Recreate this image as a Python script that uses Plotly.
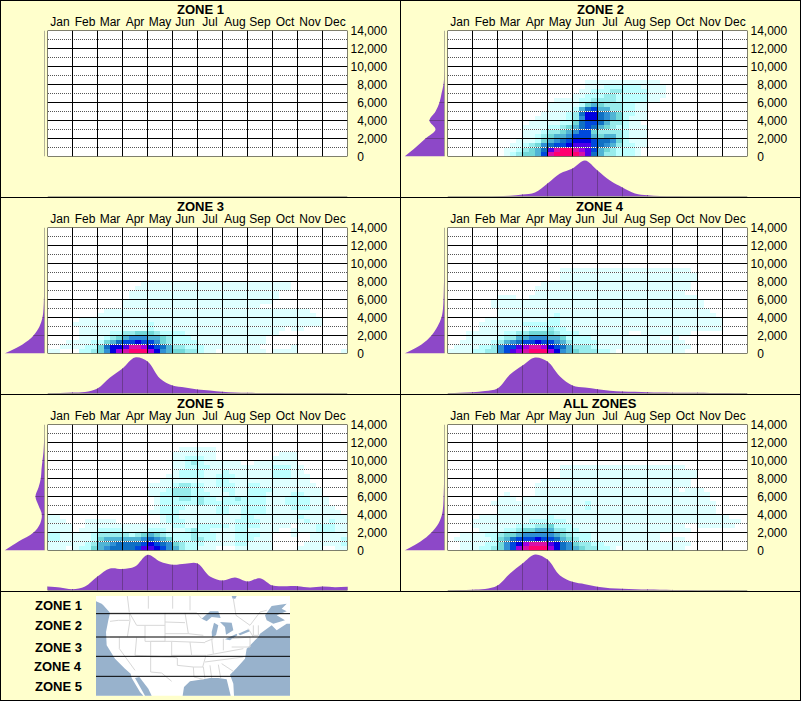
"""
Elevation / month heat maps for five latitude zones and all zones together.
"""

import plotly.graph_objects as go

WIDTH = 801
HEIGHT = 701
BG = "#FFFFCC"
PURPLE = "#8D48C8"
DARK_PURPLE = "#6B3A90"
WATER = "#98B2CC"
GULF = "#96B0CA"
FONT = "Liberation Sans"

MONTHS = ["Jan", "Feb", "Mar", "Apr", "May", "Jun", "Jul", "Aug", "Sep", "Oct", "Nov", "Dec"]
ELEV_TICKS = [0, 2000, 4000, 6000, 8000, 10000, 12000, 14000]
ELEV_LABELS = ["\u00a0\u00a00", "\u00a0\u00a02,000", "\u00a0\u00a04,000", "\u00a0\u00a06,000",
               "\u00a0\u00a08,000", "10,000", "12,000", "14,000"]
PANEL_TITLES = ["ZONE 1", "ZONE 2", "ZONE 3", "ZONE 4", "ZONE 5", "ALL ZONES"]
ZONE_LABELS = ["ZONE 1", "ZONE 2", "ZONE 3", "ZONE 4", "ZONE 5"]

# heat levels, one hex digit per cell
LEVEL_COLORS = ["#FFFFFF", "#DFFFFF", "#BDFFFF", "#98ECEC", "#72D8D8", "#50B4D4", "#3090D4",
                "#1070C4", "#0048DC", "#0000E0", "#5000E8", "#A000E0", "#D810A8", "#FF0070"]

# each row: 48 weekly cells, 12 groups of 4; first row is the lowest 500 ft band
ZONE1_ROWS = []
ZONE2_ROWS = [
    "0000 0000 0123 4458 CDDD DCA7 5332 2210",
    "0000 0000 0112 3457 ACDD CBA8 5432 2210",
    "0000 0000 0011 2346 7889 AAA8 7653 2211",
    "0000 0000 0001 1124 5678 9998 7764 2111",
    "0000 0000 0000 1123 4556 8885 4553 2111",
    "0000 0000 0000 1112 3345 6884 3333 2111",
    "0000 0000 0000 1111 2234 5787 5432 2111",
    "0000 0000 0000 0111 1122 4788 7533 2110",
    "0000 0000 0000 0011 1112 3699 7654 2111",
    "0000 0000 0000 0001 1112 3799 7654 2211",
    "0000 0000 0000 0000 1111 2578 5533 2211",
    "0000 0000 0000 0000 1111 1245 4333 2211",
    "0000 0000 0000 0000 0111 1223 3332 2222 1100",
    "0000 0000 0000 0000 0000 1122 2332 2222 1110",
    "0000 0000 0000 0000 0000 0112 2233 2222 1110",
    "0000 0000 0000 0000 0000 0011 1222 2221 1110",
    "0000 0000 0000 0000 0000 0011 1111 1111 1100",
]
ZONE3_ROWS = [
    "1100 0223 469B CDDD B965 4433 2110 1111 1110 1111 0000 0001",
    "0011 1122 4799 ACCB 9875 3322 2111 1111 1100 0001",
    "0001 1112 2457 8898 8643 2222 1111 1111 1110",
    "0000 0111 1234 5666 5543 2221 1111 1111 1110",
    "0000 0111 1122 3344 4322 2211 1111 1111 1111 1000",
    "0000 0111 1111 1111 2111 1111 1111 1111 1111 1101 1000",
    "0000 1111 1111 1111 2111 1111 1111 1111 1111 1111 1111",
    "0000 0111 1111 1111 1111 1111 1111 1111 1111 1111 1111",
    "0000 0000 1111 1111 1111 1111 1111 1111 1111 1111 1110",
    "0000 0000 0111 1111 1111 1111 1111 1111 1111 1111 1100",
    "0000 0000 0000 1111 1111 1111 1111 1111 1100",
    "0000 0000 0000 1111 1111 1111 1111 1111 1111",
    "0000 0000 0000 0111 1111 1111 1111 1111 1111 1000",
    "0000 0000 0000 0111 1111 1111 1111 1111 1111 1000",
    "0000 0000 0000 0011 1111 1111 1111 1111 1111 1110",
    "0000 0000 0000 0001 1111 1111 1111 1111 1111 1110",
]
ZONE4_ROWS = [
    "1111 2233 68AB CDDD B965 4333 2210 1111 1111 1100",
    "0111 1223 688A BCCB 9875 3332 1111 1111 1111 1110",
    "0011 1112 3567 8898 8653 2222 1111 1111 1111 1100",
    "0001 1111 2335 5666 5542 2221 1111 1111 1100 1000",
    "0001 1111 1223 3444 4322 2111 1111 1001 1111 1110",
    "0000 0111 1111 1222 3221 1111 1111 1111 1111 1111 1111",
    "0000 0111 1111 2222 2211 1111 1111 1111 1111 1111 1111",
    "0000 0011 1111 1111 2211 1111 1111 1111 1111 1111 1111",
    "0000 0000 1111 1111 1211 1111 1111 1111 1111 1111 1110",
    "0000 0000 1111 1111 1111 1111 1111 1111 1111 1111 1100",
    "0000 0001 1111 1111 1111 1111 1111 1111 1111 1111 1000",
    "0000 0001 1111 1111 1111 1111 1111 1111 1111 1111 1000",
    "0000 0000 1110 0111 1111 1111 1111 1111 1111 1111",
    "0000 0000 0000 0011 1111 1111 1111 1111 1111 1100",
    "0000 0000 0000 0011 1111 1111 1111 1111 1111 1110",
    "0000 0000 0000 0001 1111 1111 1111 1111 1111 1110",
    "0000 0000 0000 0000 0011 1111 1111 1111 1111 1111",
    "0000 0000 0000 0000 0011 1111 1111 1111 1111 1111",
    "0000 0000 0000 0000 0011 1111 1111 1111 1111 1110",
]
ZONE5_ROWS = [
    "1110 1224 5677 778A A986 5322 1110 0011 1111 0000 1111 0011",
    "1111 1123 5567 7778 9876 4322 2111 1122 1111 0000 0111 1112",
    "2211 1112 4555 5556 7654 2223 3221 1122 2111 0000 0011 1112",
    "2211 1112 3333 3234 5432 2223 2221 1122 2211 0001 0011 1111",
    "1111 0111 2222 1111 2221 1123 2211 1122 1111 1001 1112 2211",
    "1111 0011 1111 1111 1111 2211 2222 2122 2211 1110 1112 2211",
    "1110 0011 1110 0000 0012 2211 1111 1122 2211 1111 1211 1211",
    "1100 0000 0000 0000 0012 2111 1111 1112 2111 1111 2111 1111",
    "0000 0000 0000 0000 1122 2111 1112 2112 2221 1111 1111 1110",
    "0000 0000 0000 0000 0122 2211 1112 2112 2221 1112 2211 1100",
    "0000 0000 0000 0000 0122 2222 3222 2222 2221 1122 2211 1000",
    "0000 0000 0000 0000 0122 2332 3221 2232 2221 1122 2211 1000",
    "0000 0000 0000 0000 1122 3332 2211 1211 2221 1112 2111",
    "0000 0000 0000 0000 1112 3332 2111 2211 2222 1111 1111",
    "0000 0000 0000 0000 1111 2332 2112 2211 2211 1111 1110",
    "0000 0000 0000 0000 0011 1111 1112 2111 1111 1111 1100",
    "0000 0000 0000 0000 0001 1222 2112 2211 1111 2221 1100",
    "0000 0000 0000 0000 0000 1222 2111 2111 1111 2221 1000",
    "0000 0000 0000 0000 0000 1122 2211 1111 1111 2221 1000",
    "0000 0000 0000 0000 0000 1123 2111 1110 0111 1111",
    "0000 0000 0000 0000 0000 1122 2110 0000 0000 1111",
    "0000 0000 0000 0000 0000 1111 1110 0000 0000 0111",
    "0000 0000 0000 0000 0000 0111 1110",
]
ALL_ROWS = [
    "0011 1223 468B CDDD B976 5433 2210 1111 1111 1100",
    "0011 1122 4689 BCCC A976 4332 2111 1111 1111 1110",
    "0111 1112 4578 8898 8754 3221 1111 1111 1100 1100",
    "0011 1122 3445 6666 6543 2221 1111 1111 1100",
    "0000 0111 1223 4455 5332 2111 1111 1111 1111 1110",
    "0000 1111 1112 2233 4222 1111 1111 1111 1111 1100 1111 1100",
    "0000 1111 1111 1222 2221 1111 1111 1111 1111 1111 1111 1110",
    "0000 0111 1111 1111 2111 1111 1111 1111 1111 1111 1111 1000",
    "0000 0000 1111 1111 1111 1111 1111 1111 1111 1111 1110",
    "0000 0000 1111 1111 1111 1121 1111 1111 1111 1111 1110",
    "0000 0001 1111 1111 1111 1121 1111 1111 1111 1111 1110",
    "0000 0000 1110 1111 1111 1111 1111 1111 1111 1111 1100",
    "0000 0000 0100 0011 1111 1111 1111 1111 1111 1111 1100",
    "0000 0000 0000 0011 1111 1111 1111 1111 1111 1011 1000",
    "0000 0000 0000 0011 1111 1111 1111 1111 1111 1110",
    "0000 0000 0000 0001 1111 1111 1111 1111 1111 1110",
    "0000 0000 0000 0000 0011 1111 1111 1111 1111 1111",
    "0000 0000 0000 0000 0011 1111 1111 1111 1111 1111",
    "0000 0000 0000 0000 0011 1111 1111 1111 1111 1100",
]

# marginal curves: month profile has a value each half month, elevation profile each 1000 ft
ZONE1_MONTH = [0] * 25
ZONE2_MONTH = [0, 0, 0, 0, 0.3, 0.8, 2, 4, 13, 23, 28, 36, 26, 16, 9, 3, 1.3, 0.5, 0.2, 0, 0, 0, 0, 0, 0]
ZONE3_MONTH = [0.3, 0.5, 1, 1.5, 5, 16, 25, 36, 32, 15, 8, 6, 4, 3, 1.7, 1, 0.7, 0.5, 0.4, 0.3, 0.3, 0.2, 0.2, 0.1, 0.1]
ZONE4_MONTH = [0.3, 0.7, 1.2, 2.5, 5, 19, 28, 36, 32, 17, 8, 6, 4.3, 2.7, 2, 1.7, 1.3, 1, 0.8, 0.7, 0.8, 0.6, 0.4, 0.3, 0.2]
ZONE5_MONTH = [4, 3, 1.3, 4, 14, 22, 21.6, 24, 35.6, 29, 25.7, 26.7, 27, 14, 10, 13, 9, 12.3, 5, 4.3, 4.3, 3, 4, 3.3, 3.7]
ALL_MONTH = [0.2, 0.4, 0.8, 1.5, 5, 17, 27, 36, 31, 15, 8.7, 6.3, 3.7, 2.3, 1.7, 1.3, 1, 0.8, 0.6, 0.4, 0.3, 0.2, 0.2, 0.1, 0.1]

ZONE1_ELEV = [0] * 15
ZONE2_ELEV = [40, 29, 19, 9, 15, 9, 5, 3, 1, 0.3, 0, 0, 0, 0, 0]
ZONE3_ELEV = [40, 22, 11, 5, 2, 1, 0.6, 0.4, 0.3, 0.2, 0.1, 0, 0, 0, 0]
ZONE4_ELEV = [40, 23, 13, 7, 3, 1.5, 1, 0.7, 0.5, 0.3, 0.2, 0.1, 0, 0, 0]
ZONE5_ELEV = [40, 26, 11, 4.3, 2.7, 6, 9, 6, 3.7, 3, 2, 1, 0.5, 0, 0]
ALL_ELEV = [40, 24, 13, 6, 2.5, 1.3, 0.9, 0.6, 0.4, 0.3, 0.2, 0.1, 0, 0, 0]

PANEL_ROWS = [ZONE1_ROWS, ZONE2_ROWS, ZONE3_ROWS, ZONE4_ROWS, ZONE5_ROWS, ALL_ROWS]
PANEL_MONTH = [ZONE1_MONTH, ZONE2_MONTH, ZONE3_MONTH, ZONE4_MONTH, ZONE5_MONTH, ALL_MONTH]
PANEL_ELEV = [ZONE1_ELEV, ZONE2_ELEV, ZONE3_ELEV, ZONE4_ELEV, ZONE5_ELEV, ALL_ELEV]

# locator map outline, in the map's own units
MAP_LAND_X = [18, 600, 600, 18]
MAP_LAND_Y = [12, 12, 311, 311]
MAP_WATER = [
    # lakes
    ([335, 360, 385, 392, 365, 350], [80, 58, 58, 78, 75, 88]),
    ([365, 372, 385, 378, 366], [120, 92, 100, 130, 135]),
    ([390, 425, 430, 408, 405], [90, 92, 115, 128, 105]),
    ([405, 440, 442, 420], [142, 125, 130, 145]),
    ([445, 475, 480, 450], [125, 112, 118, 130]),
    # Hudson Bay tip, St Lawrence
    ([425, 440, 436, 428], [12, 12, 20, 20]),
    ([525, 545, 590, 575, 590, 560, 585, 550, 530], [70, 42, 35, 50, 58, 70, 85, 95, 85]),
    # Pacific
    ([18, 160, 150, 125, 122, 105, 75, 50, 48, 55, 60, 40, 35, 18], [311, 311, 300, 258, 245, 230, 200, 160, 120, 85, 62, 40, 35, 28]),
    # Gulf of California
    ([135, 148, 175, 185, 165], [258, 255, 290, 311, 311]),
    # Atlantic
    ([432, 430, 420, 440, 465, 470, 485, 505, 510, 545, 560, 590, 600, 600],
     [311, 275, 248, 228, 200, 170, 155, 135, 125, 100, 115, 95, 95, 311]),
]
# Gulf of Mexico, drawn last
MAP_GULF_X = [340, 360, 385, 410, 422, 278, 282, 300]
MAP_GULF_Y = [262, 258, 258, 262, 311, 311, 285, 268]
MAP_BORDERS = [
    ([60, 320, 335], [62, 62, 80]),
    ([60, 85, 118], [88, 85, 85]),
    ([118, 120, 112], [62, 85, 135]),
    ([60, 165], [135, 135]),
    ([88, 88, 135], [135, 170, 235]),
    ([140, 135], [135, 190]),
    ([118, 140, 165, 225], [62, 100, 100, 100]),
    ([165, 165, 225, 225], [100, 148, 148, 62]),
    ([182, 182], [148, 240]),
    ([182, 245, 245, 182], [148, 148, 195, 195]),
    ([135, 245], [190, 195]),
    ([225, 285], [90, 92]),
    ([225, 295], [125, 125]),
    ([245, 300, 305, 245], [148, 150, 190, 190]),
    ([245, 262, 262, 310, 312, 340], [195, 198, 220, 225, 255, 262]),
    ([182, 215, 245], [240, 243, 268]),
    ([285, 290, 295, 340], [62, 90, 125, 130]),
    ([300, 345], [150, 152]),
    ([305, 348, 338], [190, 190, 225]),
    ([310, 340, 345], [225, 225, 260]),
    ([360, 365], [220, 258]),
    ([385, 392], [218, 258]),
    ([430, 395], [238, 215]),
    ([345, 460], [210, 195]),
    ([350, 400, 460], [190, 180, 170]),
    ([345, 370], [150, 140]),
    ([365, 370], [140, 185]),
    ([400, 400], [140, 175]),
    ([425, 480, 480, 425], [140, 135, 165, 165]),
    ([475, 490], [110, 135]),
    ([490, 490, 505, 505], [100, 130, 130, 100]),
    ([480, 510, 530], [100, 60, 55]),
    ([112, 118], [12, 62]),
    ([175, 175], [12, 50]),
    ([248, 248], [12, 50]),
    ([300, 300], [12, 55]),
    ([430, 438, 480], [20, 70, 100]),
]
MAP_DIVIDERS = [65, 135, 193, 253]
MAP_LABEL_Y = [605.5, 625.5, 647, 666.5, 686.5]

fig = go.Figure()
layout_axes = {}
axis_count = 0


def add_axes(left, right, top, bottom, xargs, yargs):
    """Register an x/y axis pair placed by pixel box, returns the trace axis ids."""
    global axis_count
    axis_count += 1
    suffix = "" if axis_count == 1 else str(axis_count)
    base = dict(showgrid=False, zeroline=False, showline=False, ticks="", showticklabels=False, fixedrange=True)
    layout_axes["xaxis" + suffix] = {
        **base, "domain": [left / WIDTH, right / WIDTH], "anchor": "y" + suffix, **xargs,
    }
    layout_axes["yaxis" + suffix] = {
        **base, "domain": [1 - bottom / HEIGHT, 1 - top / HEIGHT], "anchor": "x" + suffix, **yargs,
    }
    return "x" + suffix, "y" + suffix


def line_trace(xs, ys, xa, ya, color, width=1, dash="solid"):
    return go.Scatter(x=xs, y=ys, xaxis=xa, yaxis=ya, mode="lines", hoverinfo="skip", showlegend=False,
                      line=dict(color=color, width=width, dash=dash))


def polygon_trace(xs, ys, xa, ya, color):
    return go.Scatter(x=xs + xs[:1], y=ys + ys[:1], xaxis=xa, yaxis=ya, mode="lines", fill="toself", fillcolor=color,
                      line=dict(width=0, simplify=False), hoverinfo="skip", showlegend=False)


def segments(pairs):
    xs, ys = [], []
    for x_pair, y_pair in pairs:
        xs += list(x_pair) + [None]
        ys += list(y_pair) + [None]
    return xs, ys


def heat_grid(rows):
    grid = []
    for r in range(28):
        text = rows[r].replace(" ", "") if r < len(rows) else ""
        grid.append([int(ch, 16) for ch in text.ljust(48, "0")])
    return grid


n_levels = len(LEVEL_COLORS)
colorscale = []
for i, c in enumerate(LEVEL_COLORS):
    colorscale += [[i / n_levels, c], [(i + 1) / n_levels, c]]

month_edges = [m for m in range(13)]
half_months = [k / 2 for k in range(25)]
thousands = [k * 1000 for k in range(15)]
cell_x = [(c + 0.5) / 4 for c in range(48)]
cell_y = [(r + 0.5) * 500 for r in range(28)]
annotations = []

for p, title in enumerate(PANEL_TITLES):
    dx = 400 * (p % 2)
    dy = 197 * (p // 2)

    # main heat panel
    xa, ya = add_axes(
        47.5 + dx, 347.5 + dx, 30.5 + dy, 156.5 + dy,
        dict(range=[0, 12], side="top", showticklabels=True, tickvals=[m + 0.5 for m in range(12)], ticktext=MONTHS,
             tickfont=dict(family=FONT, size=12, color="#000000"), ticklabelstandoff=1),
        dict(range=[0, 14000], side="right", showticklabels=True, tickvals=ELEV_TICKS, ticktext=ELEV_LABELS,
             tickfont=dict(family=FONT, size=12, color="#000000"), ticklabelstandoff=2),
    )
    fig.add_trace(go.Heatmap(x=cell_x, y=cell_y, z=heat_grid(PANEL_ROWS[p]), xaxis=xa, yaxis=ya, zmin=-0.5,
                             zmax=n_levels - 0.5, colorscale=colorscale, showscale=False, hoverinfo="skip",
                             xgap=0, ygap=0))
    odd = [t for t in thousands if t % 2000]
    # half a pixel in from the edge so the 1px dashes land on whole pixels
    dot_x, dot_y = segments([([0.02, 12], [t, t]) for t in odd])
    fig.add_trace(line_trace(dot_x, dot_y, xa, ya, "#FFFFFF"))
    fig.add_trace(line_trace(dot_x, dot_y, xa, ya, "#555555", dash="1px,1px"))
    solid = [([0, 12], [t, t]) for t in ELEV_TICKS] + [([m, m], [0, 14000]) for m in month_edges]
    grid_x, grid_y = segments(solid)
    fig.add_trace(line_trace(grid_x, grid_y, xa, ya, "#000000"))

    # elevation profile at the left
    xa, ya = add_axes(4.5 + dx, 44.5 + dx, 30.5 + dy, 156.5 + dy, dict(range=[40, 0]), dict(range=[0, 14000]))
    elev = PANEL_ELEV[p]
    fig.add_trace(go.Scatter(x=elev, y=thousands, xaxis=xa, yaxis=ya, mode="lines", fill="tozerox", fillcolor=PURPLE,
                             line=dict(width=0, shape="spline", smoothing=1), hoverinfo="skip", showlegend=False))
    bx, by = segments([([0, elev[k]], [thousands[k], thousands[k]]) for k in range(2, 15, 2) if elev[k] > 0.5])
    fig.add_trace(line_trace(bx, by, xa, ya, DARK_PURPLE))
    fig.add_trace(line_trace([0, 0], [0, 14000], xa, ya, "#666666"))

    # month profile at the bottom
    xa, ya = add_axes(47.5 + dx, 347.5 + dx, 156.5 + dy, 196.5 + dy, dict(range=[0, 12]), dict(range=[0, 40]))
    month = PANEL_MONTH[p]
    fig.add_trace(go.Scatter(x=half_months, y=month, xaxis=xa, yaxis=ya, mode="lines", fill="tozeroy", fillcolor=PURPLE,
                             line=dict(width=0, shape="spline", smoothing=1), hoverinfo="skip", showlegend=False))
    bx, by = segments([([half_months[k], half_months[k]], [0, month[k]]) for k in range(0, 25, 2) if month[k] > 0.5])
    fig.add_trace(line_trace(bx, by, xa, ya, DARK_PURPLE))
    fig.add_trace(line_trace([0, 12], [0, 0], xa, ya, "#666666"))

    annotations.append(dict(x=(200 + dx) / WIDTH, y=1 - (9.5 + dy) / HEIGHT, xref="paper", yref="paper", text="<b>%s</b>" % title,
                            showarrow=False, font=dict(family=FONT, size=13, color="#000000"),
                            xanchor="center", yanchor="middle"))

# locator map
xa, ya = add_axes(96, 290, 596, 696, dict(range=[18, 600]), dict(range=[312, 12]))
fig.add_trace(polygon_trace(MAP_LAND_X, MAP_LAND_Y, xa, ya, "#FFFFFF"))
for water_x, water_y in MAP_WATER:
    fig.add_trace(polygon_trace(water_x, water_y, xa, ya, WATER))
fig.add_trace(polygon_trace(MAP_GULF_X, MAP_GULF_Y, xa, ya, GULF))
bx, by = segments(MAP_BORDERS)
fig.add_trace(line_trace(bx, by, xa, ya, "#D8D8D8"))
bx, by = segments([([18, 600], [y, y]) for y in MAP_DIVIDERS])
fig.add_trace(line_trace(bx, by, xa, ya, "#000000"))

for label, y in zip(ZONE_LABELS, MAP_LABEL_Y):
    annotations.append(dict(x=83.5 / WIDTH, y=1 - y / HEIGHT, xref="paper", yref="paper", text="<b>%s</b>" % label,
                            showarrow=False, font=dict(family=FONT, size=13, color="#000000"),
                            xanchor="right", yanchor="middle"))

# panel frames
shapes = []
for y in [0.5, 197.5, 394.5, 591.5, 700.5]:
    shapes.append(dict(type="line", xref="paper", yref="paper", x0=0, x1=1, y0=1 - y / HEIGHT, y1=1 - y / HEIGHT,
                       line=dict(color="#000000", width=1)))
for x, y_end in [(0.5, 700.5), (400.5, 591.5), (800.5, 700.5)]:
    shapes.append(dict(type="line", xref="paper", yref="paper", x0=x / WIDTH, x1=x / WIDTH, y0=1, y1=1 - y_end / HEIGHT,
                       line=dict(color="#000000", width=1)))

fig.update_layout(
    width=WIDTH,
    height=HEIGHT,
    autosize=False,
    margin=dict(l=0, r=0, t=0, b=0, pad=0, autoexpand=False),
    paper_bgcolor=BG,
    plot_bgcolor="rgba(0,0,0,0)",
    showlegend=False,
    annotations=annotations,
    shapes=shapes,
    **layout_axes,
)

fig.write_html(
    "out.html",
    config={"displayModeBar": False, "staticPlot": True},
    post_script="document.body.style.margin='0';document.body.style.overflow='hidden';",
)
